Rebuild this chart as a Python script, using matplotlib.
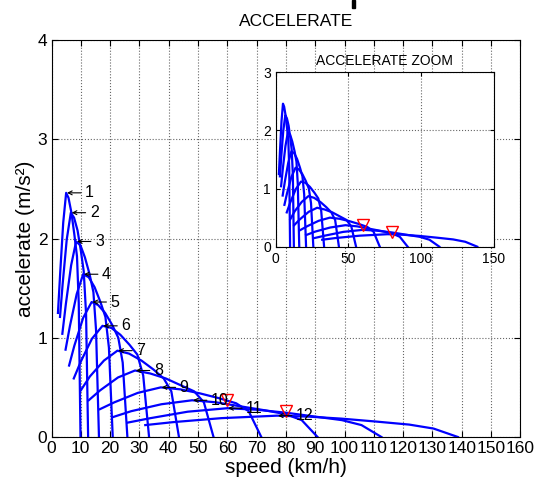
import matplotlib
matplotlib.use('Agg')
import matplotlib.pyplot as plt
from matplotlib.patches import Rectangle

plt.rcParams['font.family'] = ['Liberation Sans', 'DejaVu Sans']

# speed (km/h) / acceleration (m/s^2) per gear
v1 = [2.2, 3.0, 4.0, 5.0, 5.8, 6.8, 7.8, 8.7, 9.3, 9.9]
a1 = [1.25, 1.67, 2.16, 2.46, 2.41, 2.26, 2.04, 1.82, 1.35, 0]
v2 = [2.9, 3.8, 5.2, 6.6, 7.7, 8.9, 10.0, 11.0, 11.8, 12.5]
a2 = [1.21, 1.54, 1.99, 2.26, 2.21, 2.08, 1.88, 1.67, 1.24, 0]
v3 = [3.7, 4.9, 6.7, 8.4, 9.9, 11.4, 13.0, 14.3, 15.2, 16.2]
a3 = [1.04, 1.34, 1.73, 1.97, 1.93, 1.81, 1.64, 1.46, 1.08, 0]
v4 = [4.8, 6.3, 8.6, 10.8, 12.7, 14.7, 16.7, 18.4, 19.6, 20.9]
a4 = [0.88, 1.12, 1.44, 1.64, 1.61, 1.51, 1.36, 1.21, 0.9, 0]
v5 = [6.0, 7.8, 10.8, 13.7, 15.9, 18.3, 20.7, 22.8, 24.3, 25.9]
a5 = [0.72, 0.92, 1.2, 1.36, 1.33, 1.25, 1.13, 1.0, 0.75, 0]
v6 = [7.6, 10.0, 13.8, 17.4, 20.4, 23.5, 26.6, 29.3, 31.3, 33.3]
a6 = [0.59, 0.76, 0.99, 1.12, 1.1, 1.03, 0.93, 0.83, 0.62, 0]
v7 = [10.0, 13.1, 17.9, 22.5, 26.5, 30.7, 34.8, 38.3, 40.9, 43.5]
a7 = [0.47, 0.61, 0.77, 0.87, 0.84, 0.77, 0.68, 0.59, 0.46, 0]
v8 = [12.7, 16.6, 22.7, 28.5, 33.7, 39.0, 44.2, 48.7, 52.0, 55.3]
a8 = [0.37, 0.47, 0.6, 0.67, 0.64, 0.59, 0.52, 0.46, 0.35, 0]
v9 = [16.5, 21.5, 29.5, 37.3, 44.0, 50.6, 57.3, 63.0, 67.3, 71.6]
a9 = [0.28, 0.35, 0.445, 0.5, 0.48, 0.44, 0.39, 0.34, 0.26, 0]
v10 = [20.9, 27.2, 37.5, 48.0, 56.0, 64.3, 72.6, 79.9, 85.4, 90.8]
a10 = [0.2, 0.26, 0.33, 0.37, 0.35, 0.31, 0.27, 0.23, 0.17, 0]
v11 = [26.0, 33.8, 46.5, 60.0, 70.0, 80.0, 90.1, 99.1, 105.8, 112.6]
a11 = [0.145, 0.19, 0.255, 0.29, 0.275, 0.245, 0.205, 0.17, 0.12, 0]
v12 = [32.0, 41.6, 58.0, 77.0, 88.0, 99.0, 111.0, 122.1, 130.4, 138.7]
a12 = [0.12, 0.15, 0.19, 0.215, 0.205, 0.185, 0.155, 0.125, 0.085, 0]

speeds = [v1, v2, v3, v4, v5, v6, v7, v8, v9, v10, v11, v12]
accels = [a1, a2, a3, a4, a5, a6, a7, a8, a9, a10, a11, a12]
gear_labels = ['1', '2', '3', '4', '5', '6', '7', '8', '9', '10', '11', '12']

# red marks on the envelope
mark_v = [60, 80]
mark_a = [0.37, 0.26]

W, H = 535, 484
fig = plt.figure(figsize=(W / 100, H / 100), dpi=100)

ax = fig.add_axes([51.5 / W, 1 - 437 / H, (520.3 - 51.5) / W, (437 - 40) / H])
for v, a in zip(speeds, accels):
    ax.plot(v, a, color='#0000ff', lw=1.6)
ax.plot(mark_v, mark_a, 'v', mfc='none', mec='r', ms=9, mew=1.0)
for lab, v, a in zip(gear_labels, speeds, accels):
    ax.annotate(lab, xy=(v[3] + 0.3, a[3]), xytext=(13, 0), textcoords='offset points',
                ha='left', va='center', fontsize=11.5,
                arrowprops=dict(arrowstyle='->', lw=0.8, color='k',
                                shrinkA=1, shrinkB=0, mutation_scale=7))
ax.set_xlim(0, 160)
ax.set_ylim(0, 4)
ax.set_xticks(range(0, 161, 10))
ax.set_yticks(range(0, 5))
ax.grid(True, ls=':', color='0.4', lw=0.8)
ax.tick_params(direction='in', top=True, right=True, labelsize=12.5, length=4, pad=3)
ax.set_xlabel('speed (km/h)', fontsize=15, labelpad=1)
ax.set_ylabel('accelerate (m/s²)', fontsize=15, labelpad=2)
fig.text(296 / W, 1 - 21 / H, 'ACCELERATE', ha='center', va='center', fontsize=12.5)

ins = fig.add_axes([275.7 / W, 1 - 246.7 / H, (493.7 - 275.7) / W, (246.7 - 72.3) / H])
ins.set_facecolor('white')
for v, a in zip(speeds, accels):
    ins.plot(v, a, color='#0000ff', lw=1.6)
ins.plot(mark_v, mark_a, 'v', mfc='none', mec='r', ms=8, mew=1.0)
ins.set_xlim(0, 150)
ins.set_ylim(0, 3)
ins.set_xticks([0, 50, 100, 150])
ins.set_yticks([0, 1, 2, 3])
ins.grid(True, ls=':', color='0.4', lw=0.8)
ins.tick_params(direction='in', top=True, right=True, labelsize=10, length=3)
ins.set_title('ACCELERATE ZOOM', fontsize=10, pad=5)

fig.add_artist(Rectangle((352 / W, 1 - 8 / H), 3 / W, 8 / H, color='k',
                         transform=fig.transFigure))

fig.savefig('out.png', dpi=100)
